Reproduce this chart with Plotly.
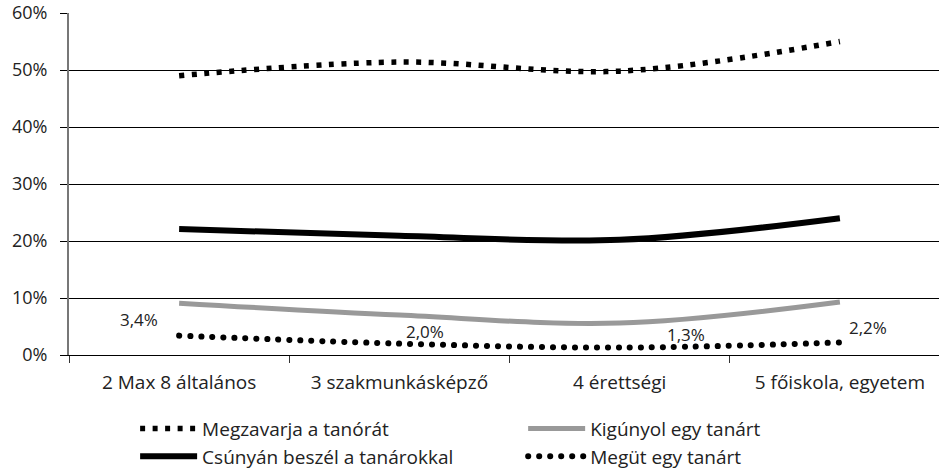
import plotly.graph_objects as go

categories = ["2 Max 8 általános", "3 szakmunkásképző", "4 érettségi", "5 főiskola, egyetem"]
megzavarja = [49.0, 51.4, 49.8, 55.0]
csunyan = [22.1, 20.9, 20.2, 24.0]
kigunyol = [9.1, 7.0, 5.6, 9.3]
meguet = [3.4, 2.0, 1.3, 2.2]
meguet_labels = ["3,4%", "2,0%", "1,3%", "2,2%"]
y_ticks = [0, 10, 20, 30, 40, 50, 60]
y_ticktext = ["0%", "10%", "20%", "30%", "40%", "50%", "60%"]

xs = list(range(len(categories)))
FONT = "Open Sans"
TXT = "#222222"

fig = go.Figure()
fig.add_trace(go.Scatter(x=xs, y=megzavarja, mode="lines", name="Megzavarja a tanórát",
                         line=dict(color="#000000", width=5.5, dash="5px,7.5px", shape="spline"),
                         legend="legend", legendrank=1))
fig.add_trace(go.Scatter(x=xs, y=csunyan, mode="lines", name="Csúnyán beszél a tanárokkal",
                         line=dict(color="#000000", width=6, shape="spline"),
                         legend="legend", legendrank=2))
fig.add_trace(go.Scatter(x=xs, y=kigunyol, mode="lines", name="Kigúnyol egy tanárt",
                         line=dict(color="#999999", width=5, shape="spline"),
                         legend="legend2", legendrank=1))
fig.add_trace(go.Scatter(x=xs, y=meguet, mode="lines", name="Megüt egy tanárt",
                         line=dict(color="#000000", width=6, dash="0.1px,10.9px", shape="spline"),
                         legend="legend2", legendrank=2))

shifts = [(-40, 16), (26, 12), (66, 13), (28, 15)]
for i, (v, t) in enumerate(zip(meguet, meguet_labels)):
    fig.add_annotation(x=xs[i], y=v, text=t, showarrow=False, xshift=shifts[i][0], yshift=shifts[i][1],
                       font=dict(family=FONT, size=17, color=TXT))

leg_common = dict(orientation="v", yanchor="top", y=-0.16, xanchor="left",
                  font=dict(family=FONT, size=19, color=TXT), tracegroupgap=0,
                  bgcolor="rgba(0,0,0,0)", itemwidth=57)
fig.update_layout(
    width=939, height=471,
    margin=dict(l=69, r=0, t=13, b=116, autoexpand=False),
    paper_bgcolor="white", plot_bgcolor="white",
    font=dict(family=FONT, size=17, color=TXT),
    showlegend=True,
    legend=dict(x=0.076, **leg_common),
    legend2=dict(x=0.522, **leg_common),
)
fig.update_xaxes(
    range=[-0.5, 3.45], tickmode="array", tickvals=xs, ticktext=categories,
    ticks="", showgrid=False, showline=True, linecolor="#000000", linewidth=1,
    tickfont=dict(family=FONT, size=19, color=TXT), ticklabelstandoff=10,
    minor=dict(ticks="outside", tick0=-0.5, dtick=1, ticklen=7, tickcolor="#333333", tickwidth=1, showgrid=False),
    zeroline=False, automargin=False,
)
fig.update_yaxes(
    range=[0, 60], tickmode="array", tickvals=y_ticks, ticktext=y_ticktext,
    showgrid=True, gridcolor="#000000", gridwidth=1,
    ticks="outside", ticklen=7, tickcolor="#000000",
    showline=True, linecolor="#777777", linewidth=2,
    zeroline=False, ticklabelstandoff=9, automargin=False,
    tickfont=dict(family=FONT, size=18, color=TXT),
)

post = """
document.body.style.margin = '0';
document.body.style.padding = '0';
document.querySelectorAll('path').forEach(function(p){
  var d = p.style.strokeDasharray || '';
  if (d.indexOf('10.9') >= 0) { p.style.strokeLinecap = 'round'; }
});
"""
fig.write_html("out.html", post_script=post, config={"displayModeBar": False})
